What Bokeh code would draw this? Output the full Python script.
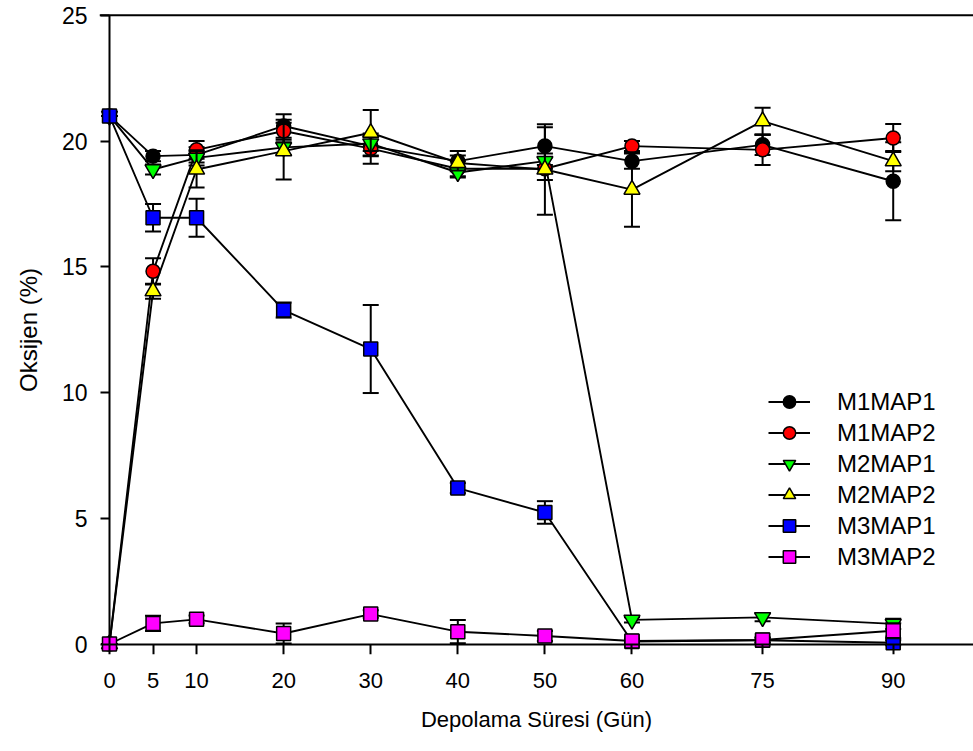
from bokeh.plotting import figure
from bokeh.models import (ColumnDataSource, Range1d, LinearAxis, FixedTicker, Span,
                          Legend, LegendItem)
from bokeh.embed import file_html
from bokeh.resources import INLINE

# ---------------- data ----------------
days = [0, 5, 10, 20, 30, 40, 50, 60, 75, 90]
x_ticks = [0, 5, 10, 20, 30, 40, 50, 60, 75, 90]
y_ticks = [0, 5, 10, 15, 20, 25]

m1map1 = [21.0, 19.40, 19.45, 20.60, 19.80, 19.20, 19.80, 19.20, 19.85, 18.40]
m1map2 = [0.0, 14.82, 19.65, 20.40, 19.70, 18.90, 18.90, 19.80, 19.65, 20.12]
m2map1 = [21.0, 18.87, 19.33, 19.75, 19.90, 18.75, 19.20, 0.96, 1.06, 0.80]
m2map2 = [0.0, 14.03, 18.87, 19.60, 20.33, 19.13, 18.87, 18.07, 20.79, 19.20]
m3map1 = [21.0, 16.95, 16.95, 13.28, 11.73, 6.20, 5.23, 0.10, 0.15, 0.05]
m3map2 = [0.0, 0.82, 0.98, 0.42, 1.19, 0.49, 0.32, 0.12, 0.16, 0.53]

m1map1_sd = [0.0, 0.20, 0.30, 0.47, 0.40, 0.40, 0.75, 0.30, 0.40, 1.55]
m1map2_sd = [0.0, 0.52, 0.35, 0.45, 0.60, 0.30, 0.45, 0.20, 0.60, 0.56]
m2map1_sd = [0.0, 0.20, 0.30, 0.30, 0.30, 0.20, 0.30, 0.10, 0.15, 0.20]
m2map2_sd = [0.0, 0.30, 0.72, 1.13, 0.90, 0.30, 1.80, 1.48, 0.53, 0.40]
m3map1_sd = [0.0, 0.55, 0.76, 0.30, 1.75, 0.20, 0.45, 0.05, 0.10, 0.10]
m3map2_sd = [0.0, 0.30, 0.15, 0.40, 0.15, 0.46, 0.20, 0.10, 0.10, 0.30]

series_names = ["M1MAP1", "M1MAP2", "M2MAP1", "M2MAP2", "M3MAP1", "M3MAP2"]
series_vals = [m1map1, m1map2, m2map1, m2map2, m3map1, m3map2]
series_sd = [m1map1_sd, m1map2_sd, m2map1_sd, m2map2_sd, m3map1_sd, m3map2_sd]
series_colors = ["#000000", "#ff0000", "#00ff00", "#ffff00", "#0000ff", "#ff00ff"]
series_markers = ["circle", "circle", "inverted_triangle", "triangle", "square", "square"]
series_sizes = [14, 14, 16, 16, 14, 14]

FONT = "Liberation Sans"
X_END = 99.22

p = figure(width=973, height=751,
           x_range=Range1d(-1.148, X_END), y_range=Range1d(-0.417, 25.39),
           x_axis_type=None, y_axis_type=None,
           min_border_left=99, min_border_right=0, min_border_top=5, min_border_bottom=97,
           outline_line_color=None, toolbar_location=None, output_backend="svg",
           background_fill_color="white", border_fill_color="white")

# label-only axes at the frame edges (text is not clipped there)
ylab = LinearAxis(bounds=(-1.45, 25), ticker=FixedTicker(ticks=y_ticks), axis_label="Oksijen (%)")
xlab = LinearAxis(bounds=(0, X_END), ticker=FixedTicker(ticks=x_ticks),
                  axis_label="Depolama Süresi (Gün)")
for ax in (xlab, ylab):
    ax.axis_line_color = None
    ax.major_tick_line_color = None
    ax.minor_tick_line_color = None
    ax.major_tick_in = 0
    ax.major_tick_out = 0
    ax.major_label_text_font = FONT
    ax.major_label_text_color = "black"
    ax.axis_label_text_font = FONT
    ax.axis_label_text_font_style = "normal"
    ax.axis_label_text_color = "black"
ylab.major_label_text_font_size = "23px"
ylab.axis_label_text_font_size = "24px"
ylab.major_label_standoff = 12
ylab.axis_label_standoff = 17
xlab.major_label_text_font_size = "22px"
xlab.axis_label_text_font_size = "22px"
xlab.major_label_standoff = 18
xlab.axis_label_standoff = 16
p.add_layout(ylab, "left")
p.add_layout(xlab, "below")

# axis lines and ticks at the data zero
yax = LinearAxis(fixed_location=0, bounds=(0, 25), ticker=FixedTicker(ticks=y_ticks))
xax = LinearAxis(fixed_location=0, bounds=(0, X_END), ticker=FixedTicker(ticks=x_ticks))
for ax in (xax, yax):
    ax.axis_line_width = 2
    ax.axis_line_color = "black"
    ax.major_tick_line_width = 2
    ax.major_tick_line_color = "black"
    ax.major_tick_in = 0
    ax.minor_tick_line_color = None
    ax.major_label_text_font_size = "0px"
    ax.major_label_text_color = None
    ax.major_label_standoff = 0
yax.major_tick_out = 9
xax.major_tick_out = 10
p.add_layout(yax, "left")
p.add_layout(xax, "below")

p.add_layout(Span(location=25, dimension="width", line_color="black", line_width=2))

items = []
for name, vals, sd, col, mk, sz in zip(series_names, series_vals, series_sd,
                                        series_colors, series_markers, series_sizes):
    src = ColumnDataSource(dict(
        x=days, y=vals,
        upper=[v + e for v, e in zip(vals, sd)],
        lower=[v - e for v, e in zip(vals, sd)],
    ))
    lr = p.line("x", "y", source=src, line_color="black", line_width=1.9)
    p.segment(x0="x", y0="lower", x1="x", y1="upper", source=src,
              line_color="black", line_width=2)
    p.scatter("x", "upper", source=src, marker="dash", size=16,
              line_color="black", line_width=2)
    p.scatter("x", "lower", source=src, marker="dash", size=16,
              line_color="black", line_width=2)
    sr = p.scatter("x", "y", source=src, marker=mk, size=sz,
                   fill_color=col, line_color="black", line_width=1.5)
    items.append(LegendItem(label=name, renderers=[lr, sr]))

legend = Legend(items=items, location=(669, 82), orientation="vertical",
                glyph_width=42, glyph_height=31, label_height=31, spacing=0,
                padding=0, margin=0,
                label_standoff=27, label_text_font=FONT, label_text_font_size="24px",
                label_text_color="black",
                border_line_color=None, background_fill_alpha=0)
p.add_layout(legend)

open("out.html", "w").write(file_html(p, INLINE))
